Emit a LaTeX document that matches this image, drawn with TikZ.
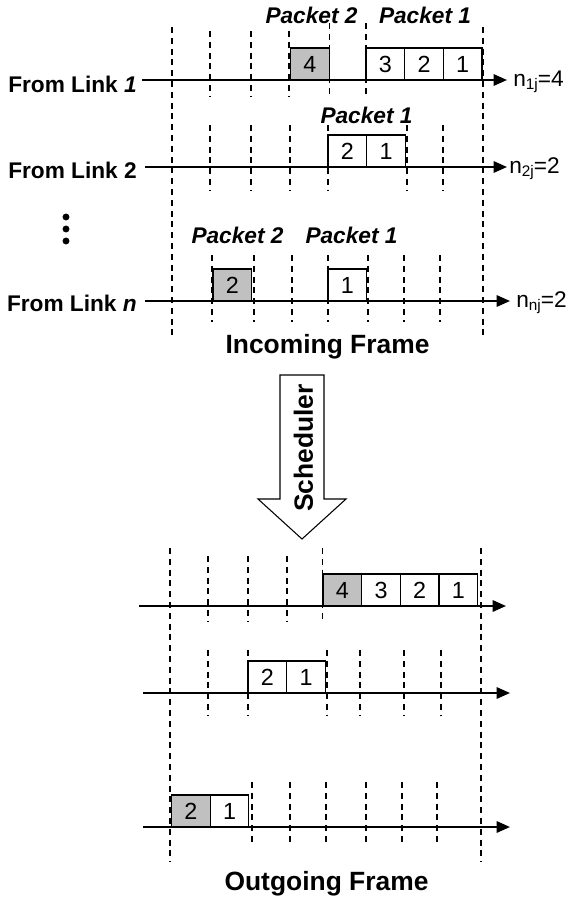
\documentclass[tikz,border=0pt]{standalone}
\usepackage{fontspec}
\setmainfont{Liberation Sans}
\usetikzlibrary{arrows.meta}
\definecolor{cellgray}{RGB}{192,192,192}
\begin{document}
\begin{tikzpicture}[x=0.75pt,y=-0.75pt,
  frameline/.style={line width=0.9pt,dash pattern=on 4.5pt off 3.6pt},
  tickline/.style={line width=0.9pt,dash pattern=on 4.5pt off 3.6pt},
  axisline/.style={line width=1.5pt,-{Triangle[length=10pt,width=8.5pt]}},
  cellbox/.style={draw,line width=0.9pt,fill=white,inner sep=0pt,outer sep=0pt,
    minimum width=29pt,minimum height=24pt,anchor=south west,
    font=\fontsize{17.5}{17.5}\selectfont},
  graybox/.style={cellbox,fill=cellgray},
  linklbl/.style={inner sep=0pt,anchor=base east,font=\fontsize{17}{17}\selectfont\bfseries},
  pktlbl/.style={inner sep=0pt,anchor=base,font=\fontsize{17}{17}\selectfont\bfseries\itshape},
  countlbl/.style={inner sep=0pt,anchor=base west,font=\fontsize{17}{17}\selectfont},
  framelbl/.style={inner sep=0pt,anchor=base,font=\fontsize{19.8}{19.8}\selectfont\bfseries},
  dotmark/.style={circle,fill,inner sep=0pt,minimum size=5.2pt},
]
\useasboundingbox (0,0) rectangle (572,900);

% ---------- incoming frame ----------
% link 1
\coordinate (l1s) at (142,80);
\coordinate (l1e) at (507,80);
\node[linklbl] (lab1) at (137,92) {From Link \textit{1}};
\node[graybox] (a4) at (290.5,80) {4};
\node[cellbox] (a3) at (366,80) {3};
\node[cellbox] (a2) at (a3.south east) {2};
\node[cellbox] (a1) at (a2.south east) {1};
\draw[axisline] (l1s) -- (l1e);
\node[countlbl] (cnt1) at (513,86) {n\raisebox{-0.32ex}{\fontsize{11.5}{11.5}\selectfont 1j}=4};
\node[pktlbl] (pa2) at (311.5,23) {Packet 2};
\node[pktlbl] (pa1) at (425,23) {Packet 1};
\foreach \x in {210,251,289} \draw[tickline] (\x,31) -- (\x,97);
\foreach \x in {329.5,366} \draw[tickline] (\x,23) -- (\x,97);

% link 2
\coordinate (l2s) at (145,167);
\coordinate (l2e) at (507,167);
\node[linklbl] (lab2) at (137,178) {From Link 2};
\node[cellbox] (b2) at (328,167) {2};
\node[cellbox] (b1) at (b2.south east) {1};
\draw[axisline] (l2s) -- (l2e);
\node[countlbl] (cnt2) at (509,173) {n\raisebox{-0.32ex}{\fontsize{11.5}{11.5}\selectfont 2j}=2};
\node[pktlbl] (pb1) at (366.5,123) {Packet 1};
\foreach \x in {210,251,290,328,407,443} \draw[tickline] (\x,125) -- (\x,190);

% vertical ellipsis between link 2 and link n
\node[dotmark] (dt1) at (66,217) {};
\node[dotmark] (dt2) at (66,229) {};
\node[dotmark] (dt3) at (66,241) {};

% link n
\coordinate (lns) at (145,301);
\coordinate (lne) at (510,301);
\node[linklbl] (labn) at (137,311) {From Link \textit{n}};
\node[graybox] (c2) at (213,301) {2};
\node[cellbox] (c1) at (328,301) {1};
\draw[axisline] (lns) -- (lne);
\node[countlbl] (cntn) at (516,307) {n\raisebox{-0.32ex}{\fontsize{11.5}{11.5}\selectfont nj}=2};
\node[pktlbl] (pc2) at (237.5,243) {Packet 2};
\node[pktlbl] (pc1) at (351.5,243) {Packet 1};
\foreach \x in {212,254,292,328,368,404,440} \draw[tickline] (\x,255) -- (\x,322);

% frame borders
\foreach \x in {172,483} \draw[frameline] (\x,27) -- (\x,335);
\node[framelbl] (inframe) at (327.5,353) {Incoming Frame};

% ---------- scheduler ----------
\draw[line width=0.8pt,fill=white] (280,375) -- (324,375) -- (324,499) -- (346,499)
  -- (302,539) -- (258,499) -- (280,499) -- cycle;
\node[rotate=90,inner sep=0pt,font=\fontsize{19.8}{19.8}\selectfont\bfseries] (sched) at (303.5,448) {Scheduler};

% ---------- outgoing frame ----------
% row 1
\coordinate (o1s) at (139,606);
\coordinate (o1e) at (506,606);
\node[graybox] (d4) at (323,606) {4};
\node[cellbox] (d3) at (d4.south east) {3};
\node[cellbox] (d2) at (d3.south east) {2};
\node[cellbox] (d1) at (d2.south east) {1};
\draw[axisline] (o1s) -- (o1e);
\foreach \x in {208,248,287} \draw[tickline] (\x,556) -- (\x,622);
\draw[tickline] (322.5,548) -- (322.5,622);

% row 2
\coordinate (o2s) at (143,693);
\coordinate (o2e) at (510,693);
\node[cellbox] (e2) at (248,693) {2};
\node[cellbox] (e1) at (e2.south east) {1};
\draw[axisline] (o2s) -- (o2e);
\foreach \x in {208,248,327,360,404,441} \draw[tickline] (\x,650) -- (\x,715);

% row 3
\coordinate (o3s) at (143,827);
\coordinate (o3e) at (510,827);
\node[graybox] (f2) at (171.5,827) {2};
\node[cellbox] (f1) at (f2.south east) {1};
\draw[axisline] (o3s) -- (o3e);
\foreach \x in {252,290,326,366,402,437} \draw[tickline] (\x,782) -- (\x,845);

% frame borders
\foreach \x in {170,481} \draw[frameline] (\x,548) -- (\x,862);
\node[framelbl] (outframe) at (326.5,890) {Outgoing Frame};
\end{tikzpicture}
\end{document}
